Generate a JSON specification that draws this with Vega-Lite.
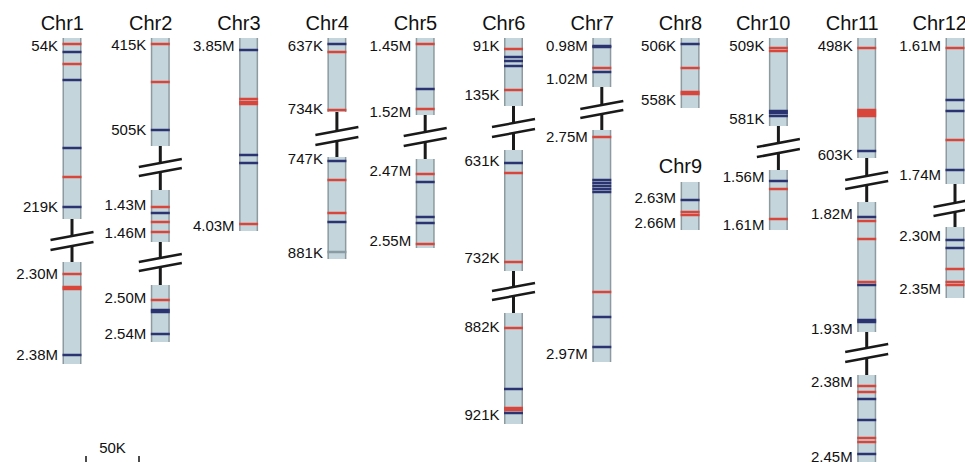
{
  "$schema": "https://vega.github.io/schema/vega-lite/v6.json",
  "width": 965,
  "height": 462,
  "autosize": {"type": "none"},
  "padding": 0,
  "background": "white",
  "config": {"view": {"stroke": null}, "font": "Liberation Sans"},
  "datasets": {
    "segs": [
      {"chr": "Chr1", "column": "Chr1", "top": 38, "bottom": 219},
      {"chr": "Chr1", "column": "Chr1", "top": 262, "bottom": 364},
      {"chr": "Chr2", "column": "Chr2", "top": 38, "bottom": 146},
      {"chr": "Chr2", "column": "Chr2", "top": 190, "bottom": 242},
      {"chr": "Chr2", "column": "Chr2", "top": 285, "bottom": 342},
      {"chr": "Chr3", "column": "Chr3", "top": 38, "bottom": 231},
      {"chr": "Chr4", "column": "Chr4", "top": 38, "bottom": 112},
      {"chr": "Chr4", "column": "Chr4", "top": 157, "bottom": 259},
      {"chr": "Chr5", "column": "Chr5", "top": 38, "bottom": 115},
      {"chr": "Chr5", "column": "Chr5", "top": 159, "bottom": 248},
      {"chr": "Chr6", "column": "Chr6", "top": 38, "bottom": 106},
      {"chr": "Chr6", "column": "Chr6", "top": 150, "bottom": 271},
      {"chr": "Chr6", "column": "Chr6", "top": 313, "bottom": 424},
      {"chr": "Chr7", "column": "Chr7", "top": 38, "bottom": 87},
      {"chr": "Chr7", "column": "Chr7", "top": 130, "bottom": 362},
      {"chr": "Chr8", "column": "Chr8", "top": 38, "bottom": 108},
      {"chr": "Chr9", "column": "Chr8", "top": 182, "bottom": 230},
      {"chr": "Chr10", "column": "Chr10", "top": 38, "bottom": 126},
      {"chr": "Chr10", "column": "Chr10", "top": 170, "bottom": 230},
      {"chr": "Chr11", "column": "Chr11", "top": 38, "bottom": 158},
      {"chr": "Chr11", "column": "Chr11", "top": 202, "bottom": 332},
      {"chr": "Chr11", "column": "Chr11", "top": 375, "bottom": 475},
      {"chr": "Chr12", "column": "Chr12", "top": 38, "bottom": 184},
      {"chr": "Chr12", "column": "Chr12", "top": 227, "bottom": 298}
    ],
    "breaks": [
      {"column": "Chr1", "from": 219, "s1": 236, "s2": 246, "to": 262},
      {"column": "Chr2", "from": 146, "s1": 163, "s2": 172, "to": 190},
      {"column": "Chr2", "from": 242, "s1": 258, "s2": 267, "to": 285},
      {"column": "Chr4", "from": 112, "s1": 131, "s2": 141, "to": 157},
      {"column": "Chr5", "from": 115, "s1": 132, "s2": 142, "to": 159},
      {"column": "Chr6", "from": 106, "s1": 123, "s2": 133, "to": 150},
      {"column": "Chr6", "from": 271, "s1": 287, "s2": 296, "to": 313},
      {"column": "Chr7", "from": 87, "s1": 105, "s2": 114, "to": 130},
      {"column": "Chr10", "from": 126, "s1": 143, "s2": 153, "to": 170},
      {"column": "Chr11", "from": 158, "s1": 176, "s2": 185, "to": 202},
      {"column": "Chr11", "from": 332, "s1": 348, "s2": 358, "to": 375},
      {"column": "Chr12", "from": 184, "s1": 203, "s2": 212, "to": 227}
    ],
    "bands": [
      {"column": "Chr1", "pos": 44, "kind": "red"},
      {"column": "Chr1", "pos": 52, "kind": "blue"},
      {"column": "Chr1", "pos": 64, "kind": "red"},
      {"column": "Chr1", "pos": 80, "kind": "blue"},
      {"column": "Chr1", "pos": 148, "kind": "blue"},
      {"column": "Chr1", "pos": 177, "kind": "red"},
      {"column": "Chr1", "pos": 207, "kind": "blue"},
      {"column": "Chr1", "pos": 274, "kind": "red"},
      {"column": "Chr1", "pos": 287, "kind": "red"},
      {"column": "Chr1", "pos": 289, "kind": "red"},
      {"column": "Chr1", "pos": 355, "kind": "blue"},
      {"column": "Chr2", "pos": 44, "kind": "red"},
      {"column": "Chr2", "pos": 82, "kind": "red"},
      {"column": "Chr2", "pos": 130, "kind": "blue"},
      {"column": "Chr2", "pos": 207, "kind": "red"},
      {"column": "Chr2", "pos": 213, "kind": "blue"},
      {"column": "Chr2", "pos": 222, "kind": "red"},
      {"column": "Chr2", "pos": 232, "kind": "red"},
      {"column": "Chr2", "pos": 300, "kind": "red"},
      {"column": "Chr2", "pos": 310, "kind": "blue"},
      {"column": "Chr2", "pos": 312, "kind": "blue"},
      {"column": "Chr2", "pos": 334, "kind": "blue"},
      {"column": "Chr3", "pos": 50, "kind": "blue"},
      {"column": "Chr3", "pos": 99, "kind": "red"},
      {"column": "Chr3", "pos": 102, "kind": "red"},
      {"column": "Chr3", "pos": 104, "kind": "red"},
      {"column": "Chr3", "pos": 155, "kind": "blue"},
      {"column": "Chr3", "pos": 163, "kind": "blue"},
      {"column": "Chr3", "pos": 224, "kind": "red"},
      {"column": "Chr4", "pos": 44, "kind": "blue"},
      {"column": "Chr4", "pos": 52, "kind": "red"},
      {"column": "Chr4", "pos": 110, "kind": "red"},
      {"column": "Chr4", "pos": 161, "kind": "blue"},
      {"column": "Chr4", "pos": 180, "kind": "red"},
      {"column": "Chr4", "pos": 213, "kind": "red"},
      {"column": "Chr4", "pos": 222, "kind": "blue"},
      {"column": "Chr4", "pos": 252, "kind": "grey"},
      {"column": "Chr5", "pos": 44, "kind": "red"},
      {"column": "Chr5", "pos": 89, "kind": "blue"},
      {"column": "Chr5", "pos": 109, "kind": "red"},
      {"column": "Chr5", "pos": 174, "kind": "red"},
      {"column": "Chr5", "pos": 182, "kind": "blue"},
      {"column": "Chr5", "pos": 217, "kind": "blue"},
      {"column": "Chr5", "pos": 223, "kind": "blue"},
      {"column": "Chr5", "pos": 244, "kind": "red"},
      {"column": "Chr6", "pos": 49, "kind": "red"},
      {"column": "Chr6", "pos": 57, "kind": "blue"},
      {"column": "Chr6", "pos": 61, "kind": "blue"},
      {"column": "Chr6", "pos": 66, "kind": "blue"},
      {"column": "Chr6", "pos": 90, "kind": "red"},
      {"column": "Chr6", "pos": 163, "kind": "blue"},
      {"column": "Chr6", "pos": 173, "kind": "red"},
      {"column": "Chr6", "pos": 262, "kind": "red"},
      {"column": "Chr6", "pos": 328, "kind": "red"},
      {"column": "Chr6", "pos": 389, "kind": "blue"},
      {"column": "Chr6", "pos": 408, "kind": "red"},
      {"column": "Chr6", "pos": 410, "kind": "red"},
      {"column": "Chr6", "pos": 413, "kind": "blue"},
      {"column": "Chr7", "pos": 46, "kind": "blue"},
      {"column": "Chr7", "pos": 47, "kind": "blue"},
      {"column": "Chr7", "pos": 68, "kind": "red"},
      {"column": "Chr7", "pos": 72, "kind": "blue"},
      {"column": "Chr7", "pos": 137, "kind": "red"},
      {"column": "Chr7", "pos": 180, "kind": "blue"},
      {"column": "Chr7", "pos": 183, "kind": "blue"},
      {"column": "Chr7", "pos": 186, "kind": "blue"},
      {"column": "Chr7", "pos": 189, "kind": "blue"},
      {"column": "Chr7", "pos": 192, "kind": "blue"},
      {"column": "Chr7", "pos": 292, "kind": "red"},
      {"column": "Chr7", "pos": 317, "kind": "blue"},
      {"column": "Chr7", "pos": 347, "kind": "blue"},
      {"column": "Chr8", "pos": 44, "kind": "blue"},
      {"column": "Chr8", "pos": 68, "kind": "red"},
      {"column": "Chr8", "pos": 92, "kind": "red"},
      {"column": "Chr8", "pos": 94, "kind": "red"},
      {"column": "Chr8", "pos": 200, "kind": "blue"},
      {"column": "Chr8", "pos": 212, "kind": "red"},
      {"column": "Chr8", "pos": 215, "kind": "red"},
      {"column": "Chr10", "pos": 48, "kind": "red"},
      {"column": "Chr10", "pos": 51, "kind": "red"},
      {"column": "Chr10", "pos": 111, "kind": "blue"},
      {"column": "Chr10", "pos": 113, "kind": "blue"},
      {"column": "Chr10", "pos": 116, "kind": "blue"},
      {"column": "Chr10", "pos": 181, "kind": "blue"},
      {"column": "Chr10", "pos": 189, "kind": "red"},
      {"column": "Chr10", "pos": 219, "kind": "red"},
      {"column": "Chr11", "pos": 48, "kind": "red"},
      {"column": "Chr11", "pos": 110, "kind": "red"},
      {"column": "Chr11", "pos": 112, "kind": "red"},
      {"column": "Chr11", "pos": 114, "kind": "red"},
      {"column": "Chr11", "pos": 116, "kind": "red"},
      {"column": "Chr11", "pos": 151, "kind": "blue"},
      {"column": "Chr11", "pos": 217, "kind": "blue"},
      {"column": "Chr11", "pos": 221, "kind": "red"},
      {"column": "Chr11", "pos": 239, "kind": "red"},
      {"column": "Chr11", "pos": 282, "kind": "red"},
      {"column": "Chr11", "pos": 285, "kind": "blue"},
      {"column": "Chr11", "pos": 320, "kind": "blue"},
      {"column": "Chr11", "pos": 322, "kind": "blue"},
      {"column": "Chr11", "pos": 386, "kind": "red"},
      {"column": "Chr11", "pos": 392, "kind": "red"},
      {"column": "Chr11", "pos": 399, "kind": "blue"},
      {"column": "Chr11", "pos": 420, "kind": "blue"},
      {"column": "Chr11", "pos": 438, "kind": "red"},
      {"column": "Chr11", "pos": 442, "kind": "red"},
      {"column": "Chr11", "pos": 454, "kind": "blue"},
      {"column": "Chr12", "pos": 48, "kind": "red"},
      {"column": "Chr12", "pos": 100, "kind": "blue"},
      {"column": "Chr12", "pos": 111, "kind": "blue"},
      {"column": "Chr12", "pos": 140, "kind": "red"},
      {"column": "Chr12", "pos": 170, "kind": "blue"},
      {"column": "Chr12", "pos": 240, "kind": "blue"},
      {"column": "Chr12", "pos": 248, "kind": "blue"},
      {"column": "Chr12", "pos": 269, "kind": "red"},
      {"column": "Chr12", "pos": 282, "kind": "red"},
      {"column": "Chr12", "pos": 285, "kind": "red"}
    ],
    "labels": [
      {"column": "Chr1", "pos": 46, "text": "54K"},
      {"column": "Chr1", "pos": 207, "text": "219K"},
      {"column": "Chr1", "pos": 274, "text": "2.30M"},
      {"column": "Chr1", "pos": 355, "text": "2.38M"},
      {"column": "Chr2", "pos": 45, "text": "415K"},
      {"column": "Chr2", "pos": 130, "text": "505K"},
      {"column": "Chr2", "pos": 205, "text": "1.43M"},
      {"column": "Chr2", "pos": 233, "text": "1.46M"},
      {"column": "Chr2", "pos": 298, "text": "2.50M"},
      {"column": "Chr2", "pos": 334, "text": "2.54M"},
      {"column": "Chr3", "pos": 46, "text": "3.85M"},
      {"column": "Chr3", "pos": 226, "text": "4.03M"},
      {"column": "Chr4", "pos": 46, "text": "637K"},
      {"column": "Chr4", "pos": 109, "text": "734K"},
      {"column": "Chr4", "pos": 159, "text": "747K"},
      {"column": "Chr4", "pos": 253, "text": "881K"},
      {"column": "Chr5", "pos": 46, "text": "1.45M"},
      {"column": "Chr5", "pos": 112, "text": "1.52M"},
      {"column": "Chr5", "pos": 171, "text": "2.47M"},
      {"column": "Chr5", "pos": 241, "text": "2.55M"},
      {"column": "Chr6", "pos": 46, "text": "91K"},
      {"column": "Chr6", "pos": 95, "text": "135K"},
      {"column": "Chr6", "pos": 161, "text": "631K"},
      {"column": "Chr6", "pos": 258, "text": "732K"},
      {"column": "Chr6", "pos": 327, "text": "882K"},
      {"column": "Chr6", "pos": 415, "text": "921K"},
      {"column": "Chr7", "pos": 46, "text": "0.98M"},
      {"column": "Chr7", "pos": 79, "text": "1.02M"},
      {"column": "Chr7", "pos": 137, "text": "2.75M"},
      {"column": "Chr7", "pos": 354, "text": "2.97M"},
      {"column": "Chr8", "pos": 46, "text": "506K"},
      {"column": "Chr8", "pos": 100, "text": "558K"},
      {"column": "Chr8", "pos": 198, "text": "2.63M"},
      {"column": "Chr8", "pos": 223, "text": "2.66M"},
      {"column": "Chr10", "pos": 46, "text": "509K"},
      {"column": "Chr10", "pos": 119, "text": "581K"},
      {"column": "Chr10", "pos": 177, "text": "1.56M"},
      {"column": "Chr10", "pos": 225, "text": "1.61M"},
      {"column": "Chr11", "pos": 46, "text": "498K"},
      {"column": "Chr11", "pos": 155, "text": "603K"},
      {"column": "Chr11", "pos": 214, "text": "1.82M"},
      {"column": "Chr11", "pos": 329, "text": "1.93M"},
      {"column": "Chr11", "pos": 382, "text": "2.38M"},
      {"column": "Chr11", "pos": 457, "text": "2.45M"},
      {"column": "Chr12", "pos": 46, "text": "1.61M"},
      {"column": "Chr12", "pos": 175, "text": "1.74M"},
      {"column": "Chr12", "pos": 236, "text": "2.30M"},
      {"column": "Chr12", "pos": 289, "text": "2.35M"}
    ],
    "titles": [
      {"column": "Chr1", "pos": 30, "text": "Chr1"},
      {"column": "Chr2", "pos": 30, "text": "Chr2"},
      {"column": "Chr3", "pos": 30, "text": "Chr3"},
      {"column": "Chr4", "pos": 30, "text": "Chr4"},
      {"column": "Chr5", "pos": 30, "text": "Chr5"},
      {"column": "Chr6", "pos": 30, "text": "Chr6"},
      {"column": "Chr7", "pos": 30, "text": "Chr7"},
      {"column": "Chr8", "pos": 30, "text": "Chr8"},
      {"column": "Chr8", "pos": 173, "text": "Chr9"},
      {"column": "Chr10", "pos": 30, "text": "Chr10"},
      {"column": "Chr11", "pos": 30, "text": "Chr11"},
      {"column": "Chr12", "pos": 30, "text": "Chr12"}
    ],
    "scalebar": [
      {"kb": 0, "pos": 456, "end": 462},
      {"kb": 50, "pos": 456, "end": 462}
    ],
    "scalelabel": [
      {"kb": 25, "pos": 453, "text": "50K"}
    ]
  },
  "resolve": {"scale": {"x": "independent"}},
  "layer": [
    {
      "encoding": {
        "x": {"field": "column", "type": "nominal", "axis": null,
              "scale": {"type": "point", "domain": ["Chr1","Chr2","Chr3","Chr4","Chr5","Chr6","Chr7","Chr8","Chr10","Chr11","Chr12"], "range": [72, 955], "padding": 0}}
      },
      "layer": [
        {
          "data": {"name": "breaks"},
          "mark": {"type": "rule", "strokeWidth": 3, "color": "#1a1a1a"},
          "encoding": {
            "y": {"field": "from", "type": "quantitative", "axis": null, "scale": {"domain": [0, 462], "reverse": true, "nice": false, "zero": false}},
            "y2": {"field": "s1"}
          }
        },
        {
          "data": {"name": "breaks"},
          "mark": {"type": "rule", "strokeWidth": 3, "color": "#1a1a1a"},
          "encoding": {
            "y": {"field": "s2", "type": "quantitative", "axis": null, "scale": {"domain": [0, 462], "reverse": true, "nice": false, "zero": false}},
            "y2": {"field": "to"}
          }
        },
        {
          "data": {"name": "breaks"},
          "transform": [{"fold": ["s1", "s2"], "as": ["which", "slash"]}],
          "mark": {"type": "point", "shape": "M-1,0.19L1,-0.19", "size": 1849, "filled": false, "stroke": "#1a1a1a", "strokeWidth": 2.5, "opacity": 1},
          "encoding": {
            "y": {"field": "slash", "type": "quantitative", "axis": null, "scale": {"domain": [0, 462], "reverse": true, "nice": false, "zero": false}}
          }
        },
        {
          "data": {"name": "segs"},
          "mark": {"type": "bar", "width": 19, "color": "#8d9ba1"},
          "encoding": {
            "y": {"field": "top", "type": "quantitative", "axis": null, "scale": {"domain": [0, 462], "reverse": true, "nice": false, "zero": false}},
            "y2": {"field": "bottom"}
          }
        },
        {
          "data": {"name": "segs"},
          "mark": {"type": "bar", "width": 16, "color": "#c5d5dc"},
          "encoding": {
            "y": {"field": "top", "type": "quantitative", "axis": null, "scale": {"domain": [0, 462], "reverse": true, "nice": false, "zero": false}},
            "y2": {"field": "bottom"}
          }
        },
        {
          "data": {"name": "bands"},
          "mark": {"type": "tick", "size": 19, "thickness": 2.5, "opacity": 1},
          "encoding": {
            "y": {"field": "pos", "type": "quantitative", "axis": null, "scale": {"domain": [0, 462], "reverse": true, "nice": false, "zero": false}},
            "color": {"field": "kind", "type": "nominal", "legend": null,
                      "scale": {"domain": ["red", "blue", "grey"], "range": ["#d8453b", "#2b3370", "#8a9ba3"]}}
          }
        },
        {
          "data": {"name": "labels"},
          "mark": {"type": "text", "align": "right", "baseline": "middle", "dx": -14, "fontSize": 15, "color": "#111111"},
          "encoding": {
            "y": {"field": "pos", "type": "quantitative", "axis": null, "scale": {"domain": [0, 462], "reverse": true, "nice": false, "zero": false}},
            "text": {"field": "text"}
          }
        },
        {
          "data": {"name": "titles"},
          "mark": {"type": "text", "align": "right", "baseline": "alphabetic", "dx": 12, "fontSize": 20, "color": "#111111"},
          "encoding": {
            "y": {"field": "pos", "type": "quantitative", "axis": null, "scale": {"domain": [0, 462], "reverse": true, "nice": false, "zero": false}},
            "text": {"field": "text"}
          }
        }
      ]
    },
    {
      "encoding": {
        "x": {"field": "kb", "type": "quantitative", "axis": null, "scale": {"domain": [0, 50], "range": [86, 139], "nice": false, "zero": false}}
      },
      "layer": [
        {
          "data": {"name": "scalebar"},
          "mark": {"type": "rule", "strokeWidth": 1.5, "color": "#111111"},
          "encoding": {
            "y": {"field": "pos", "type": "quantitative", "axis": null, "scale": {"domain": [0, 462], "reverse": true, "nice": false, "zero": false}},
            "y2": {"field": "end"}
          }
        },
        {
          "data": {"name": "scalelabel"},
          "mark": {"type": "text", "align": "center", "baseline": "alphabetic", "fontSize": 15, "color": "#111111"},
          "encoding": {
            "y": {"field": "pos", "type": "quantitative", "axis": null, "scale": {"domain": [0, 462], "reverse": true, "nice": false, "zero": false}},
            "text": {"field": "text"}
          }
        }
      ]
    }
  ]
}
